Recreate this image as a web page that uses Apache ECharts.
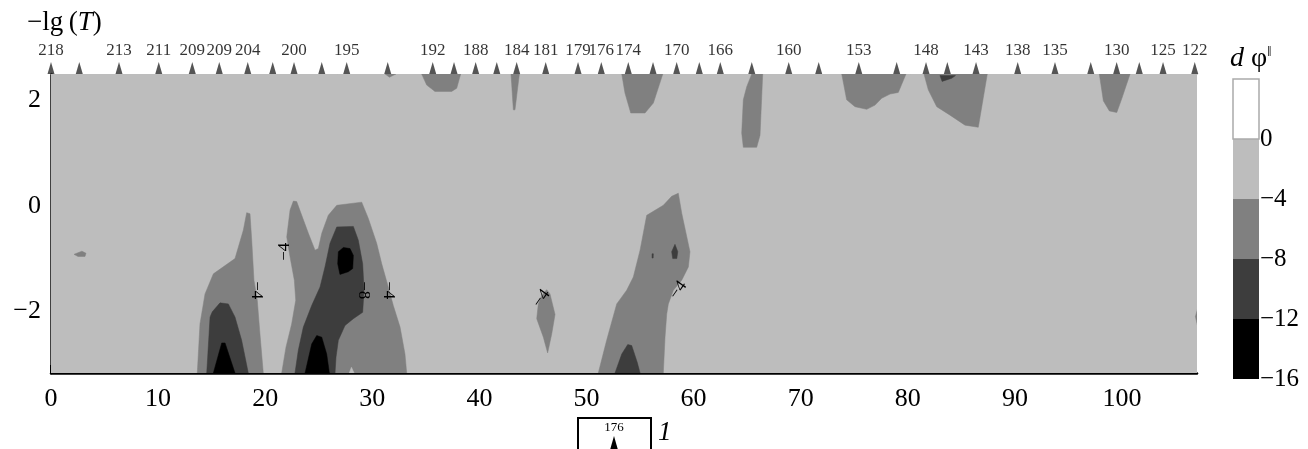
<!DOCTYPE html>
<html><head><meta charset="utf-8">
<script src="https://cdn.jsdelivr.net/npm/echarts@6/dist/echarts.min.js"></script>
<style>html,body{margin:0;padding:0;background:#fff}#c{width:1308px;height:449px}</style>
</head><body><div id="c"></div>
<script>
// ---------- data ----------
const xRange = [0, 107];
const yRange = [-3.17, 2.5];
const xTicks = [0, 10, 20, 30, 40, 50, 60, 70, 80, 90, 100];
const yTicks = [-2, 0, 2];
// colour-bar band edges (dφ)
const bandEdges = [-16, -12, -8, -4, 0, 4];
const bandLabels = [-16, -12, -8, -4, 0];
// top markers: position along x, label ('' = unlabeled)
const markerX = [0, 2.64, 6.35, 10.06, 13.19, 15.71, 18.37, 20.70, 22.69, 25.28, 27.61, 31.44,
  35.64, 37.63, 39.65, 41.62, 43.48, 46.19, 49.21, 51.38, 53.90, 56.21, 58.42, 60.53, 62.49,
  65.43, 68.88, 71.68, 75.42, 78.96, 81.70, 83.69, 86.37, 90.26, 93.74, 97.08, 99.50, 101.61,
  103.83, 106.79];
const markerLabels = ['218', '', '213', '211', '209', '209', '204', '', '200', '', '195', '',
  '192', '', '188', '', '184', '181', '179', '176', '174', '', '170', '', '166',
  '', '160', '', '153', '', '148', '', '143', '138', '135', '', '130', '',
  '125', '122'];

// contour regions (band index: 0=[-16,-12] 1=[-12,-8] 2=[-8,-4] 3=[-4,0])
const domain = [[0, -3.17], [107, -3.17], [107, 2.5], [0, 2.5]];
const midDot = [[2.15, -0.92], [2.89, -0.86], [3.27, -0.90], [3.17, -0.96], [2.52, -0.96]];
const midA = [[13.66, -3.17], [13.91, -2.24], [14.38, -1.67], [15.16, -1.29], [17.18, -1.00],
  [17.96, -0.46], [18.27, -0.13], [18.58, -0.15], [18.74, -0.65], [18.95, -1.41], [19.26, -1.79],
  [19.51, -2.43], [19.82, -3.17]];
const darkA = [[14.54, -3.17], [14.85, -2.11], [15.06, -2.01], [15.78, -1.84], [16.56, -1.86],
  [17.18, -2.11], [17.80, -2.55], [18.42, -3.17]];
const blackA = [[15.16, -3.17], [15.94, -2.60], [16.25, -2.60], [17.18, -3.17]];
const midB = [[21.54, -3.17], [21.94, -2.68], [22.47, -2.24], [22.85, -1.79], [22.72, -1.41],
  [22.32, -0.97], [22.01, -0.59], [22.32, -0.08], [22.63, 0.09], [22.94, 0.08], [23.41, -0.18],
  [24.03, -0.52], [24.65, -0.84], [24.96, -0.81], [25.28, -0.52], [25.89, -0.18], [26.68, 0.01],
  [29.01, 0.07], [29.63, -0.24], [30.41, -0.71], [30.88, -1.10], [31.49, -1.54], [31.96, -1.89],
  [32.59, -2.30], [33.05, -2.81], [33.21, -3.17]];
const darkB = [[22.78, -3.17], [23.09, -2.74], [23.56, -2.30], [24.34, -1.89], [25.12, -1.54],
  [25.58, -1.16], [26.05, -0.71], [26.68, -0.40], [28.23, -0.39], [28.69, -0.65], [29.10, -1.10],
  [29.23, -1.60], [29.10, -2.02], [28.23, -2.14], [27.45, -2.27], [26.83, -2.55], [26.61, -2.87],
  [26.52, -3.17]];
const blackB1 = [[26.83, -0.87], [27.30, -0.79], [27.92, -0.81], [28.23, -0.94], [28.17, -1.19],
  [27.76, -1.25], [26.98, -1.30], [26.77, -1.10]];
const blackB2 = [[23.72, -3.17], [24.34, -2.62], [24.81, -2.46], [25.28, -2.49], [25.74, -2.81],
  [25.99, -3.17]];
const lightB = [[27.85, -3.17], [28.05, -3.06], [28.3, -3.17]];
const midC = [[46.28, -1.59], [46.59, -1.67], [47.06, -2.06], [46.75, -2.43], [46.37, -2.79],
  [45.97, -2.49], [45.35, -2.14], [45.50, -1.86], [45.81, -1.70]];
const midD = [[51.10, -3.17], [51.88, -2.55], [52.82, -1.86], [53.75, -1.60], [54.37, -1.35],
  [55.00, -0.84], [55.62, -0.18], [57.17, 0.01], [57.95, 0.18], [58.57, 0.24], [58.89, -0.14],
  [59.66, -0.87], [59.51, -1.16], [58.89, -1.41], [58.11, -1.60], [57.64, -1.86], [57.49, -2.05],
  [57.33, -2.49], [57.17, -3.17]];
const darkD = [[52.66, -3.17], [53.29, -2.81], [53.85, -2.63], [54.22, -2.65], [54.74, -2.97],
  [55.00, -3.17]];
const darkD2 = [[58.26, -0.73], [58.52, -0.87], [58.43, -1.00], [58.05, -1.00], [57.95, -0.87]];
const darkD3 = [[56.12, -0.91], [56.24, -0.91], [56.22, -0.99], [56.12, -0.99]];
const midT1 = [[31.2, 2.5], [32.2, 2.5], [31.6, 2.44]];
const midT2 = [[34.61, 2.5], [35.08, 2.29], [35.85, 2.17], [37.41, 2.17], [37.88, 2.23], [38.25, 2.5]];
const midT3 = [[42.95, 2.5], [43.17, 1.82], [43.32, 1.82], [43.73, 2.5]];
const midT4 = [[53.29, 2.5], [53.59, 2.14], [54.13, 1.76], [55.46, 1.76], [56.24, 1.95], [57.12, 2.5]];
const midT5 = [[65.43, 2.5], [64.96, 2.26], [64.64, 2.01], [64.49, 1.38], [64.64, 1.11],
  [65.89, 1.11], [66.20, 1.34], [66.45, 2.5]];
const midT6 = [[73.83, 2.5], [74.29, 2.01], [75.07, 1.88], [76.16, 1.83], [76.94, 1.91],
  [77.56, 2.04], [78.34, 2.12], [79.11, 2.15], [79.83, 2.5]];
const midT7 = [[81.51, 2.5], [81.91, 2.2], [82.70, 1.88], [83.94, 1.72], [85.34, 1.53],
  [86.58, 1.49], [87.42, 2.5]];
const darkT7 = [[83.0, 2.47], [84.45, 2.47], [84.1, 2.42], [83.2, 2.36]];
const midT8 = [[97.88, 2.5], [98.26, 1.99], [98.82, 1.80], [99.51, 1.77], [99.97, 2.03], [100.75, 2.5]];
const midR = [[107.1, -1.92], [106.85, -2.1], [107.1, -2.32]];

const regionPolys = [domain, midDot, midA, darkA, blackA, midB, darkB, blackB1, blackB2, lightB,
  midC, midD, darkD, darkD2, darkD3, midT1, midT2, midT3, midT4, midT5, midT6, midT7, darkT7, midT8, midR];
const regionBands = [3, 2, 2, 1, 0, 2, 1, 0, 0, 3,
  2, 2, 1, 1, 1, 2, 2, 2, 2, 2, 2, 2, 1, 2, 2];

// contour labels: x, y, text, rotation (deg)
const clabX = [19.2, 21.85, 29.16, 31.5, 45.8, 58.57];
const clabY = [-1.60, -0.87, -1.60, -1.60, -1.76, -1.60];
const clabText = ['−4', '−4', '−8', '−4', '−4', '−4'];
const clabRot = [-90, 90, -90, -90, 55, 55];

const legendLabel = '176';
const legendName = '1';

// ---------- styles ----------
const bandColors = ['#000000', '#3d3d3d', '#808080', '#bdbdbd', '#ffffff'];
const FONT = 'Liberation Serif';

const chart = echarts.init(document.getElementById('c'), null, {renderer: 'canvas'});

const option = {
  animation: false,
  backgroundColor: '#fff',
  grid: [
    {left: 51, top: 74, width: 1146, height: 299, containLabel: false},
    {left: 1233, top: 79, width: 26, height: 300}
  ],
  xAxis: [
    {type: 'value', gridIndex: 0, min: xRange[0], max: xRange[1], position: 'bottom',
      splitLine: {show: false},
      axisLine: {onZero: false, lineStyle: {color: '#000', width: 2.5}},
      axisTick: {inside: true, length: 8, lineStyle: {color: '#000', width: 2}, customValues: xTicks},
      axisLabel: {customValues: xTicks, color: '#000', fontFamily: FONT, fontSize: 26, margin: 13}
    },
    {type: 'value', gridIndex: 0, min: xRange[0], max: xRange[1], position: 'top',
      splitLine: {show: false}, axisTick: {show: false}, axisLabel: {show: false},
      axisLine: {onZero: false, lineStyle: {color: '#9a9a9a', width: 1}}
    },
    {type: 'value', gridIndex: 1, min: 0, max: 1, show: false}
  ],
  yAxis: [
    {type: 'value', gridIndex: 0, min: yRange[0], max: yRange[1],
      splitLine: {show: false},
      axisLine: {onZero: false, lineStyle: {color: '#000', width: 2.5}},
      axisTick: {inside: true, length: 8, lineStyle: {color: '#000', width: 2}, customValues: yTicks},
      axisLabel: {customValues: yTicks, color: '#000', fontFamily: FONT, fontSize: 26, margin: 10,
        formatter: v => String(v).replace('-', '−')}
    },
    {type: 'value', gridIndex: 1, min: bandEdges[0], max: bandEdges[bandEdges.length - 1],
      position: 'right', splitLine: {show: false}, axisLine: {show: false}, axisTick: {show: false},
      axisLabel: {customValues: bandLabels, color: '#000', fontFamily: FONT, fontSize: 25, margin: 1,
        formatter: v => String(v).replace('-', '−')}
    }
  ],
  series: [
    {
      type: 'custom', xAxisIndex: 0, yAxisIndex: 0, clip: true, silent: true,
      data: regionPolys.map((p, i) => [i, 0]),
      renderItem: (params, api) => {
        const i = api.value(0);
        const pts = regionPolys[i].map(p => api.coord(p));
        return {type: 'polygon', shape: {points: pts},
          style: {fill: bandColors[regionBands[i]], stroke: bandColors[regionBands[i]], lineWidth: 0.5}};
      }
    },
    {
      type: 'custom', xAxisIndex: 0, yAxisIndex: 0, clip: false, silent: true,
      data: clabX.map((x, i) => [x, clabY[i], i]),
      renderItem: (params, api) => {
        const i = api.value(2);
        const p = api.coord([api.value(0), api.value(1)]);
        return {type: 'text', x: p[0], y: p[1], rotation: clabRot[i] * Math.PI / 180,
          style: {text: clabText[i], fontFamily: FONT, fontSize: 17, fill: '#000',
            align: 'center', verticalAlign: 'middle'}};
      }
    },
    {
      type: 'scatter', xAxisIndex: 0, yAxisIndex: 0, clip: false, silent: true,
      symbol: 'triangle', symbolSize: [7, 12], symbolOffset: [0, -6],
      itemStyle: {color: '#2b2b2b'},
      data: markerX.map((x, i) => [x, yRange[1], markerLabels[i]]),
      label: {show: true, position: 'top', distance: 3, formatter: p => p.data[2],
        color: '#000', fontFamily: FONT, fontSize: 17}
    },
    {
      type: 'custom', xAxisIndex: 2, yAxisIndex: 1, silent: true,
      data: bandEdges.slice(0, -1).map((lo, i) => [lo, bandEdges[i + 1], i]),
      renderItem: (params, api) => {
        const lo = api.value(0), hi = api.value(1), b = api.value(2);
        const a = api.coord([0, hi]), c = api.coord([1, lo]);
        return {type: 'rect', shape: {x: a[0], y: a[1], width: c[0] - a[0], height: c[1] - a[1]},
          style: {fill: bandColors[b], stroke: b === 4 ? '#aaaaaa' : null, lineWidth: 1.5}};
      },
      encode: {y: [0, 1]}
    }
  ],
  graphic: [
    {type: 'text', left: 27, top: 9, style: {
      text: '−lg\u2009({i|T})', fontFamily: FONT, fontSize: 27, fill: '#000',
      rich: {i: {fontStyle: 'italic', fontFamily: FONT, fontSize: 27}}}},
    {type: 'text', left: 1230, top: 45, style: {
      text: '{i|d} φ{s|‖}', fontFamily: FONT, fontSize: 28, fill: '#000',
      rich: {i: {fontStyle: 'italic', fontFamily: FONT, fontSize: 28},
        s: {fontFamily: FONT, fontSize: 15, verticalAlign: 'top', padding: [0, 0, 12, 0]}}}},
    {type: 'rect', shape: {x: 578, y: 418, width: 73, height: 40},
      style: {fill: 'none', stroke: '#000', lineWidth: 2}},
    {type: 'text', x: 614, y: 428, style: {text: legendLabel, fontFamily: FONT, fontSize: 13,
      fill: '#000', align: 'center', verticalAlign: 'middle'}},
    {type: 'polygon', shape: {points: [[610, 450], [618, 450], [614, 436]]}, style: {fill: '#000'}},
    {type: 'text', x: 658, y: 433, style: {text: legendName, fontFamily: FONT, fontSize: 27,
      fontStyle: 'italic', fill: '#000', verticalAlign: 'middle'}}
  ]
};
chart.setOption(option);
</script>
</body></html>
